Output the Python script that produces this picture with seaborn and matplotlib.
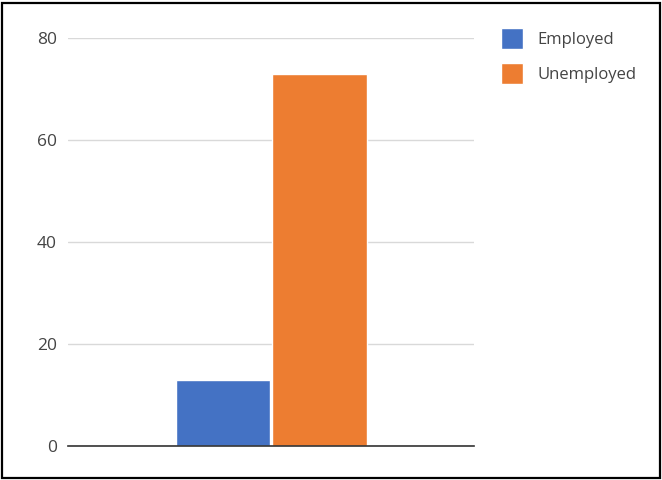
import matplotlib.pyplot as plt
from matplotlib.patches import Rectangle
import seaborn as sns
import pandas as pd

# chart data
groups = ["Employed", "Unemployed"]
values = [13, 73]
colors = ["#4472C4", "#ED7D31"]

sns.set_style("white")
plt.rcParams['font.family'] = ['Open Sans', 'DejaVu Sans']

df = pd.DataFrame({"cat": ["all"] * len(groups), "status": groups, "count": values})

fig = plt.figure(figsize=(6.62, 4.8), dpi=100)
ax = fig.add_axes([0.103, 0.071, 0.613, 0.85])

sns.barplot(data=df, x="cat", y="count", hue="status", palette=colors,
            width=0.475, gap=0.02, saturation=1, ax=ax, legend=True)

ax.set_ylim(0, 80)
ax.set_xlim(-0.5, 0.5)
ax.set_yticks([0, 20, 40, 60, 80])
ax.set_xticks([])
ax.set_xlabel("")
ax.set_ylabel("")
ax.yaxis.grid(True, color="#d9d9d9", linewidth=1)
ax.set_axisbelow(True)
for s in ["top", "right", "left"]:
    ax.spines[s].set_visible(False)
ax.spines["bottom"].set_color("#333333")
ax.spines["bottom"].set_linewidth(1.2)
ax.tick_params(axis="y", length=0, pad=8, labelsize=12.5, labelcolor="#444444")

leg = ax.legend(loc="upper left", bbox_to_anchor=(1.030, 1.061), frameon=False,
                fontsize=12, handlelength=1.3, handleheight=1.6,
                handletextpad=0.9, labelspacing=0.8, labelcolor="#444444")

# black border around the whole picture
fig.patches.append(Rectangle((0.003, 0.004), 0.994, 0.99, transform=fig.transFigure,
                             fill=False, edgecolor="black", linewidth=1.6))

fig.savefig("out.png", dpi=100)
